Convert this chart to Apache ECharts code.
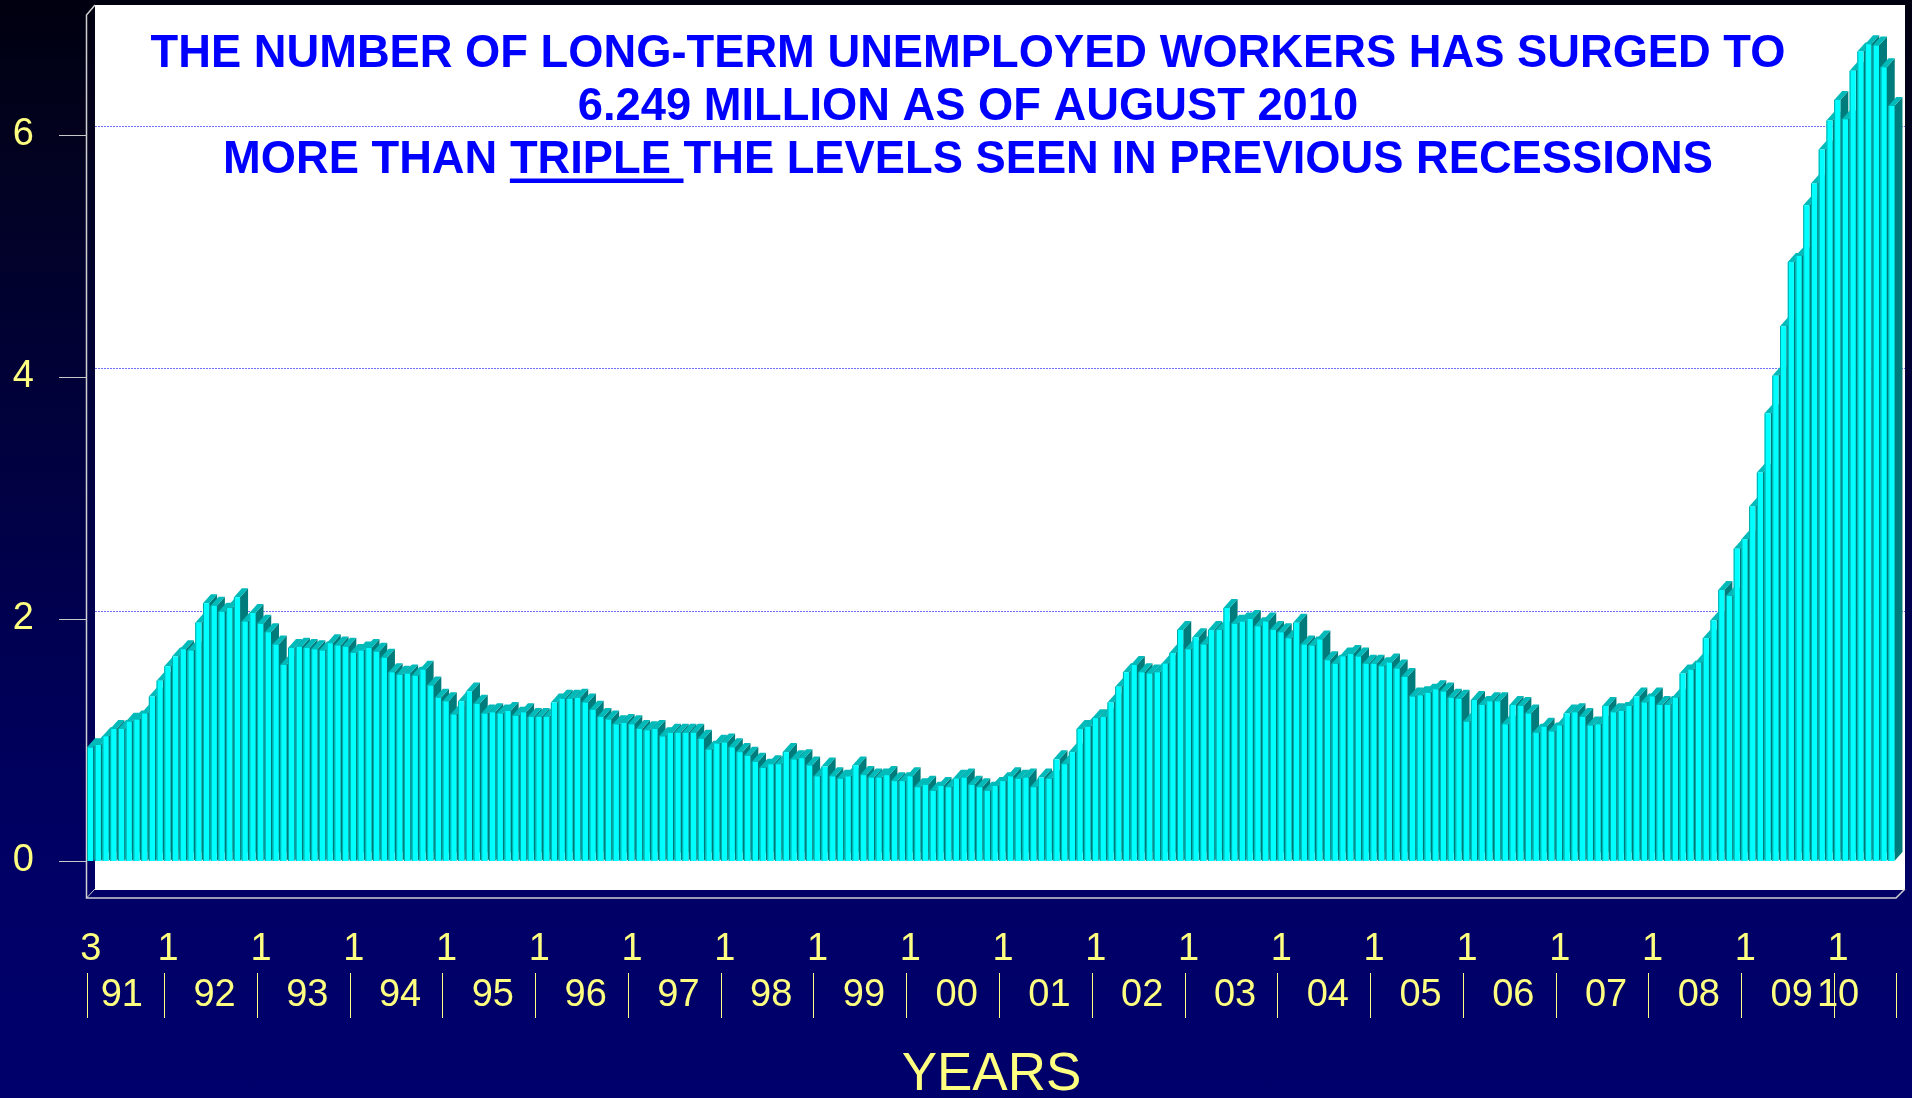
<!DOCTYPE html>
<html>
<head>
<meta charset="UTF-8">
<title>Long-term unemployed workers</title>
<script type="text/javascript" src="https://cdn.jsdelivr.net/npm/echarts@6/dist/echarts.min.js"></script>
<style>
	html, body { margin: 0; padding: 0; }
	body { background: linear-gradient(to bottom, #000010 0%, #02021e 12%, #000050 56%, #000066 80%, #00006c 100%); }
	#box { width: 1912px; height: 1098px; }
</style>
</head>
<body>
	<div id="box"></div>

	<script type="text/javascript">
		// long-term unemployed (27+ weeks), millions, monthly
		var v1991 = [0.94, 0.96, 1.03, 1.09, 1.09, 1.15, 1.17, 1.22, 1.36, 1.49]; // Mar - Dec
		var v1992 = [1.61, 1.69, 1.75, 1.74, 1.97, 2.13, 2.11, 2.06, 2.09, 2.18, 1.98, 2.05];
		var v1993 = [1.96, 1.89, 1.79, 1.62, 1.76, 1.77, 1.76, 1.75, 1.74, 1.80, 1.78, 1.77];
		var v1994 = [1.72, 1.74, 1.76, 1.73, 1.68, 1.56, 1.54, 1.55, 1.53, 1.58, 1.45, 1.35];
		var v1995 = [1.32, 1.21, 1.32, 1.40, 1.30, 1.22, 1.23, 1.22, 1.24, 1.20, 1.23, 1.19];
		var v1996 = [1.19, 1.19, 1.31, 1.34, 1.34, 1.35, 1.31, 1.25, 1.19, 1.17, 1.13, 1.14];
		var v1997 = [1.13, 1.09, 1.08, 1.09, 1.03, 1.06, 1.06, 1.06, 1.06, 1.01, 0.92, 0.97];
		var v1998 = [0.98, 0.94, 0.90, 0.87, 0.82, 0.77, 0.80, 0.80, 0.90, 0.84, 0.85, 0.79];
		var v1999 = [0.70, 0.78, 0.70, 0.68, 0.70, 0.79, 0.71, 0.69, 0.69, 0.71, 0.66, 0.66];
		var v2000 = [0.70, 0.61, 0.63, 0.58, 0.62, 0.61, 0.68, 0.69, 0.63, 0.61, 0.58, 0.62];
		var v2001 = [0.66, 0.70, 0.68, 0.69, 0.61, 0.69, 0.68, 0.84, 0.80, 0.90, 1.09, 1.11];
		var v2002 = [1.18, 1.19, 1.31, 1.44, 1.56, 1.62, 1.56, 1.55, 1.56, 1.63, 1.72, 1.91];
		var v2003 = [1.75, 1.85, 1.79, 1.91, 1.91, 2.09, 1.96, 1.98, 2.00, 1.94, 1.98, 1.91];
		var v2004 = [1.89, 1.84, 1.97, 1.79, 1.78, 1.83, 1.66, 1.63, 1.69, 1.71, 1.69, 1.63];
		var v2005 = [1.63, 1.61, 1.64, 1.59, 1.52, 1.36, 1.37, 1.39, 1.42, 1.40, 1.35, 1.34];
		var v2006 = [1.15, 1.33, 1.29, 1.32, 1.32, 1.13, 1.29, 1.28, 1.22, 1.06, 1.11, 1.07];
		var v2007 = [1.12, 1.22, 1.23, 1.19, 1.12, 1.13, 1.28, 1.23, 1.24, 1.28, 1.36, 1.31];
		var v2008 = [1.36, 1.29, 1.29, 1.35, 1.55, 1.58, 1.64, 1.84, 1.99, 2.24, 2.19, 2.58];
		var v2009 = [2.66, 2.93, 3.21, 3.70, 4.01, 4.42, 4.95, 5.00, 5.42, 5.60, 5.88, 6.12];
		var v2010 = [6.29, 6.13, 6.53, 6.69, 6.75, 6.74, 6.56, 6.24]; // Jan - Aug

		var years = [1991, 1992, 1993, 1994, 1995, 1996, 1997, 1998, 1999, 2000,
			2001, 2002, 2003, 2004, 2005, 2006, 2007, 2008, 2009, 2010];
		var yearValues = [v1991, v1992, v1993, v1994, v1995, v1996, v1997, v1998, v1999, v2000,
			v2001, v2002, v2003, v2004, v2005, v2006, v2007, v2008, v2009, v2010];
		var firstMonth = 3;
		var yTicks = [0, 2, 4, 6];

		var titleLines = [
			'THE NUMBER OF LONG-TERM UNEMPLOYED WORKERS HAS SURGED TO',
			'6.249 MILLION AS OF AUGUST 2010',
			'MORE THAN TRIPLE THE LEVELS SEEN IN PREVIOUS RECESSIONS'
		];

		// month categories "m/yy"
		var cats = [], months = [], yrs = [], data = [];
		for (var y = 0; y < years.length; y++) {
			var start = (y === 0) ? firstMonth : 1;
			for (var k = 0; k < yearValues[y].length; k++) {
				var m = start + k;
				cats.push(m + '/' + String(years[y]).slice(2));
				months.push(m);
				yrs.push(years[y]);
				data.push([cats.length - 1, yearValues[y][k]]);
			}
		}

		var FONT = '"Liberation Sans", Arial, sans-serif';
		var YELLOW = '#ffff80';
		var DX = 8, DY = 9; // 3d depth

		function isYearStart(i) {
			return i === 0 || months[i] === 1;
		}
		function isYearLabel(i) {
			if (yrs[i] === 2010) return months[i] === 1;
			return months[i] === 7;
		}

		function renderBar(params, api) {
			var base = api.coord([api.value(0), 0]);
			var top = api.coord([api.value(0), api.value(1)]);
			var band = api.size([1, 0])[0];
			var x0 = base[0] - band / 2;
			var w = band * 0.8;
			var b = base[1], t = top[1];
			return {
				type : 'group',
				children : [ {
					type : 'polygon',
					shape : { points : [ [ x0 + w, t ], [ x0 + w + DX, t - DY ], [ x0 + w + DX, b - DY ], [ x0 + w, b ] ] },
					style : { fill : '#007b7b' }
				}, {
					type : 'polygon',
					shape : { points : [ [ x0, t ], [ x0 + DX, t - DY ], [ x0 + w + DX, t - DY ], [ x0 + w, t ] ] },
					style : { fill : '#00baba' }
				}, {
					type : 'rect',
					shape : { x : x0, y : t, width : w, height : b - t },
					style : { fill : '#00ffff' }
				}, {
					type : 'rect',
					shape : { x : x0, y : t, width : 1, height : b - t },
					style : { fill : '#00a8a8' }
				} ]
			};
		}

		// underline under "TRIPLE "
		var titleFont = 'bold 45.3px ' + FONT;
		var ctx = document.createElement('canvas').getContext('2d');
		ctx.font = titleFont;
		var line3W = ctx.measureText(titleLines[2]).width;
		var ulX = 968 - line3W / 2 + ctx.measureText('MORE THAN ').width;
		var ulW = ctx.measureText('TRIPLE ').width;

		var myChart = echarts.init(document.getElementById('box'), null, { renderer : 'canvas' });
		myChart.setOption({
			animation : false,
			grid : [ {
				left : 87, right : 16, top : 135, bottom : 237, outerBoundsMode : 'none'
			}, {
				left : 95, right : 7, top : 126, bottom : 487, outerBoundsMode : 'none'
			} ],
			xAxis : [ {
				gridIndex : 0,
				type : 'category',
				data : cats,
				axisLine : { show : false },
				axisTick : { show : false },
				axisLabel : {
					interval : function(i) { return isYearStart(i); },
					formatter : function(v) { return v.split('/')[0]; },
					margin : 70,
					fontSize : 38,
					fontFamily : FONT,
					color : YELLOW
				}
			}, {
				gridIndex : 0,
				type : 'category',
				data : cats,
				position : 'bottom',
				offset : 112,
				axisLine : { show : false },
				axisTick : {
					show : true,
					length : 45,
					interval : function(i) { return isYearStart(i); },
					lineStyle : { color : YELLOW, width : 1 }
				},
				axisLabel : {
					interval : function(i) { return isYearLabel(i); },
					formatter : function(v) { return v.split('/')[1]; },
					margin : 4,
					fontSize : 38,
					fontFamily : FONT,
					color : YELLOW
				},
				name : 'YEARS',
				nameLocation : 'middle',
				nameGap : 76,
				nameTextStyle : { fontSize : 53, fontFamily : FONT, color : YELLOW }
			}, {
				gridIndex : 1,
				type : 'value',
				show : false
			} ],
			yAxis : [ {
				gridIndex : 0,
				type : 'value',
				min : yTicks[0],
				max : yTicks[yTicks.length - 1],
				interval : 2,
				axisLine : { show : false },
				axisTick : { show : true, length : 28, lineStyle : { color : '#c8c8c8' } },
				axisLabel : { margin : 53, fontSize : 38, fontFamily : FONT, color : YELLOW },
				splitLine : { show : false }
			}, {
				// gridlines on the back wall
				gridIndex : 1,
				type : 'value',
				min : 2,
				max : 6,
				interval : 2,
				axisLine : { show : false },
				axisTick : { show : false },
				axisLabel : { show : false },
				splitLine : { show : true, lineStyle : { color : '#6f6fff', width : 1, type : [ 2, 1 ] } }
			} ],
			series : [ {
				type : 'custom',
				xAxisIndex : 0,
				yAxisIndex : 0,
				clip : false,
				renderItem : renderBar,
				encode : { x : 0, y : 1 },
				data : data
			} ],
			graphic : [ {
				type : 'rect', z : -1, silent : true,
				shape : { x : 95, y : 5, width : 1810, height : 885 },
				style : { fill : '#ffffff' }
			}, {
				type : 'polyline', silent : true,
				shape : { points : [ [ 95, 5 ], [ 86.5, 15 ], [ 86.5, 898 ], [ 1896, 898 ], [ 1905, 889 ] ] },
				style : { stroke : '#d0d0d0', lineWidth : 1.5, fill : null }
			}, {
				type : 'line', silent : true,
				shape : { x1 : 86.5, y1 : 898, x2 : 95, y2 : 889 },
				style : { stroke : '#d0d0d0', lineWidth : 1 }
			}, {
				type : 'text', x : 968, y : 55,
				style : { text : titleLines[0], font : titleFont, fill : '#0000ff', align : 'center', verticalAlign : 'middle', textAlign : 'center', textVerticalAlign : 'middle' }
			}, {
				type : 'text', x : 968, y : 107.5,
				style : { text : titleLines[1], font : titleFont, fill : '#0000ff', align : 'center', verticalAlign : 'middle', textAlign : 'center', textVerticalAlign : 'middle' }
			}, {
				type : 'text', x : 968, y : 160.5,
				style : { text : titleLines[2], font : titleFont, fill : '#0000ff', align : 'center', verticalAlign : 'middle', textAlign : 'center', textVerticalAlign : 'middle' }
			}, {
				type : 'rect', silent : true,
				shape : { x : ulX, y : 178.5, width : ulW, height : 4.5 },
				style : { fill : '#0000ff' }
			} ]
		});
	</script>

</body>
</html>
